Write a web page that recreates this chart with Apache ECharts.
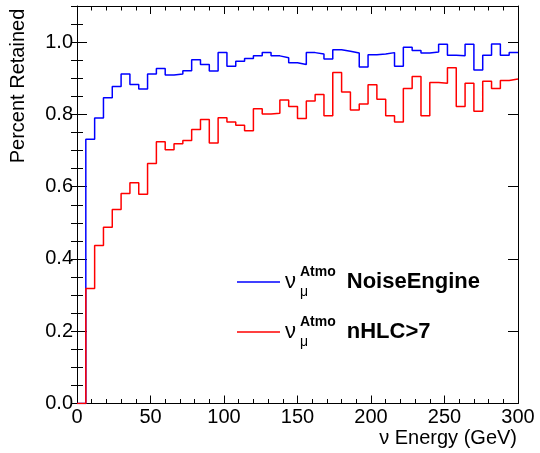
<!DOCTYPE html>
<html>
<head>
<meta charset="utf-8">
<script src="https://cdn.jsdelivr.net/npm/echarts@6/dist/echarts.min.js"></script>
<style>html,body{margin:0;padding:0;background:#fff;}#c{width:540px;height:453px;}</style>
</head>
<body>
<div id="c"></div>
<script>
// Bin edges (GeV)
const binEdges = [0,6,12,18,24,30,36,42,48,54,60,66,72,78,84,90,96,102,108,114,120,126,132,138,144,150,156,162,168,174,180,186,192,198,204,210,216,222,228,234,240,246,252,258,264,270,276,282,288,294,300];
// Fraction retained per bin
const noiseEngine = [0,0.731,0.790,0.846,0.877,0.912,0.883,0.870,0.912,0.927,0.909,0.912,0.921,0.951,0.938,0.920,0.971,0.933,0.947,0.955,0.962,0.971,0.962,0.957,0.943,0.938,0.971,0.967,0.953,0.979,0.975,0.970,0.931,0.965,0.967,0.971,0.933,0.986,0.977,0.970,0.973,0.994,0.964,0.962,0.994,0.923,0.964,0.995,0.964,0.971];
const nHLC = [0,0.318,0.437,0.488,0.537,0.581,0.611,0.579,0.664,0.724,0.702,0.719,0.728,0.758,0.786,0.721,0.791,0.779,0.770,0.755,0.816,0.801,0.803,0.840,0.822,0.789,0.837,0.855,0.796,0.916,0.862,0.812,0.829,0.882,0.842,0.796,0.779,0.872,0.905,0.796,0.888,0.886,0.929,0.822,0.886,0.809,0.892,0.872,0.894,0.898];
const xTicks = [0,50,100,150,200,250,300];
const yTicks = [0,0.2,0.4,0.6,0.8,1.0];
const xTitle = 'ν Energy (GeV)';
const yTitle = 'Percent Retained';

const FONT = "'Liberation Sans', Arial, Helvetica, sans-serif";

function toSteps(vals) {
  return binEdges.map((e, i) => [e, vals[Math.min(i, vals.length - 1)]]);
}

const chart = echarts.init(document.getElementById('c'), null, {renderer: 'canvas'});

const baseX = {
  type: 'value', min: 0, max: 300, interval: 50,
  axisLine: {show: true, onZero: false, lineStyle: {color: '#000', width: 1}},
  axisTick: {show: true, inside: true, length: 8, lineStyle: {color: '#000', width: 1}},
  minorTick: {show: true, splitNumber: 5, length: 4.5, lineStyle: {color: '#000', width: 1}},
  splitLine: {show: false}
};
const baseYMajor = {
  type: 'value', min: 0, max: 1.1, interval: 0.2,
  axisLine: {show: true, onZero: false, lineStyle: {color: '#000', width: 1}},
  axisTick: {show: true, inside: true, length: 10, lineStyle: {color: '#000', width: 1}},
  splitLine: {show: false}
};
const baseYMinor = {
  type: 'value', min: 0, max: 1.1, interval: 0.05,
  axisLine: {show: false},
  axisLabel: {show: false},
  axisTick: {show: true, inside: true, length: 6, lineStyle: {color: '#000', width: 1}},
  splitLine: {show: false}
};

const richStyles = {
  nu: {fontSize: 22, fontFamily: FONT, color: '#000', lineHeight: 34, verticalAlign: 'middle', padding: [0, 4, 0, 0]},
  sub: {fontSize: 14, fontFamily: FONT, color: '#000', lineHeight: 23, verticalAlign: 'bottom', width: 0},
  sup: {fontSize: 14, fontFamily: FONT, fontWeight: 'bold', color: '#000', lineHeight: 18, verticalAlign: 'top', padding: [0, 11, 0, 0]},
  b: {fontSize: 22, fontFamily: FONT, fontWeight: 'bold', color: '#000', lineHeight: 34, verticalAlign: 'middle'}
};

chart.setOption({
  animation: false,
  backgroundColor: '#fff',
  grid: {left: 77, right: 22, top: 6, bottom: 49.5, containLabel: false, outerBoundsMode: 'none'},
  xAxis: [
    Object.assign({}, baseX, {
      position: 'bottom',
      axisLabel: {show: true, margin: 4, fontSize: 20, fontFamily: FONT, color: '#000',
        formatter: v => (xTicks.indexOf(v) >= 0 ? String(v) : '')}
    }),
    Object.assign({}, baseX, {position: 'top', axisLabel: {show: false}})
  ],
  yAxis: [
    Object.assign({}, baseYMajor, {
      position: 'left',
      axisLabel: {show: true, margin: 4, fontSize: 20, fontFamily: FONT, color: '#000', showMaxLabel: false,
        formatter: v => (yTicks.indexOf(Math.round(v * 10) / 10) >= 0 ? v.toFixed(1) : '')}
    }),
    Object.assign({}, baseYMinor, {position: 'left'}),
    Object.assign({}, baseYMajor, {position: 'right', axisLabel: {show: false}}),
    Object.assign({}, baseYMinor, {position: 'right'})
  ],
  graphic: [
    {type: 'text', x: 517, y: 438, silent: true,
      style: {text: xTitle, font: '20px ' + FONT, fill: '#000', align: 'right', verticalAlign: 'middle'}},
    {type: 'text', x: 18, y: 86, rotation: Math.PI / 2, silent: true,
      style: {text: yTitle, font: '20px ' + FONT, fill: '#000', align: 'center', verticalAlign: 'middle'}}
  ],
  legend: {
    orient: 'vertical', left: 237, top: 265, padding: 0,
    itemWidth: 43, itemHeight: 1.5, itemGap: 16,
    icon: 'rect',
    selectedMode: false,
    data: ['NoiseEngine', 'nHLC>7'],
    formatter: name => '{nu|ν}{sub|μ}{sup|Atmo}{b|' + name + '}',
    textStyle: {rich: richStyles, color: '#000'}
  },
  series: [
    {
      name: 'NoiseEngine', type: 'line', step: 'end', symbol: 'none',
      xAxisIndex: 0, yAxisIndex: 0,
      lineStyle: {color: '#0000ff', width: 1.5},
      itemStyle: {color: '#0000ff'},
      data: toSteps(noiseEngine)
    },
    {
      name: 'nHLC>7', type: 'line', step: 'end', symbol: 'none',
      xAxisIndex: 0, yAxisIndex: 0,
      lineStyle: {color: '#ff0000', width: 1.5},
      itemStyle: {color: '#ff0000'},
      data: toSteps(nHLC)
    }
  ]
});
</script>
</body>
</html>
